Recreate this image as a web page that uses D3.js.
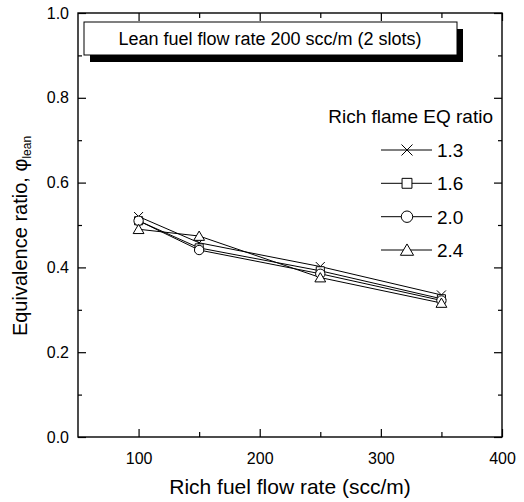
<!DOCTYPE html>
<html>
<head>
<meta charset="utf-8">
<script src="https://cdn.jsdelivr.net/npm/d3@7"></script>
<style>
html,body{margin:0;padding:0;background:#fff;}
text{font-family:"Liberation Sans",Arial,sans-serif;fill:#000;}
</style>
</head>
<body>
<svg id="chart" width="524" height="502"></svg>
<script>
const richFlow = [100, 150, 250, 350];
const seriesNames = ["1.3", "1.6", "2.0", "2.4"];
const s13 = [0.52, 0.458, 0.402, 0.335];
const s16 = [0.51, 0.446, 0.392, 0.326];
const s20 = [0.51, 0.441, 0.385, 0.322];
const s24 = [0.49, 0.474, 0.376, 0.316];
const seriesValues = [s13, s16, s20, s24];
const symbolsKind = ["cross", "square", "circle", "triangle"];
const xMajor = [100, 200, 300, 400];
const xMinor = [150, 250, 350];
const yMajor = [0, 0.2, 0.4, 0.6, 0.8, 1.0];
const yMinor = [0.1, 0.3, 0.5, 0.7, 0.9];
const titleText = "Lean fuel flow rate 200 scc/m (2 slots)";
const legendTitle = "Rich flame EQ ratio";

const svg = d3.select("#chart");
const L = 78, R = 502, T = 13, B = 437;
const x = d3.scaleLinear().domain([50, 400]).range([L, R]);
const y = d3.scaleLinear().domain([0, 1]).range([B, T]);

function styleAxis(g) {
  g.select(".domain").remove();
  g.selectAll(".tick line").attr("stroke", "#000").attr("stroke-width", 1.2);
  g.selectAll(".tick text").style("font-family", '"Liberation Sans",Arial,sans-serif').attr("fill", "#000");
}

// bottom
svg.append("g").attr("transform", `translate(0,${B})`)
  .call(d3.axisBottom(x).tickValues(xMajor).tickSize(-8).tickPadding(16).tickFormat(d3.format("d")))
  .call(styleAxis).selectAll("text").style("font-size", "16px");
svg.append("g").attr("transform", `translate(0,${B})`)
  .call(d3.axisBottom(x).tickValues(xMinor).tickSize(-5).tickFormat(""))
  .call(styleAxis);
// top
svg.append("g").attr("transform", `translate(0,${T})`)
  .call(d3.axisTop(x).tickValues(xMajor).tickSize(-8).tickFormat(""))
  .call(styleAxis);
svg.append("g").attr("transform", `translate(0,${T})`)
  .call(d3.axisTop(x).tickValues(xMinor).tickSize(-5).tickFormat(""))
  .call(styleAxis);
// left
svg.append("g").attr("transform", `translate(${L},0)`)
  .call(d3.axisLeft(y).tickValues(yMajor).tickSize(-8).tickPadding(9).tickFormat(d3.format(".1f")))
  .call(styleAxis).selectAll("text").style("font-size", "16px");
svg.append("g").attr("transform", `translate(${L},0)`)
  .call(d3.axisLeft(y).tickValues(yMinor).tickSize(-4).tickFormat(""))
  .call(styleAxis);
// right
svg.append("g").attr("transform", `translate(${R},0)`)
  .call(d3.axisRight(y).tickValues(yMajor).tickSize(-8).tickFormat(""))
  .call(styleAxis);
svg.append("g").attr("transform", `translate(${R},0)`)
  .call(d3.axisRight(y).tickValues(yMinor).tickSize(-4).tickFormat(""))
  .call(styleAxis);

// frame
svg.append("rect").attr("x", L).attr("y", T).attr("width", R - L).attr("height", B - T)
  .attr("fill", "none").attr("stroke", "#000").attr("stroke-width", 1.4);

// axis titles
svg.append("text").attr("x", (L + R) / 2).attr("y", 494).attr("text-anchor", "middle")
  .style("font-size", "21px").text("Rich fuel flow rate (scc/m)");
const yl = svg.append("text").attr("transform", "translate(27,236) rotate(-90)")
  .attr("text-anchor", "middle").style("font-size", "20px");
yl.append("tspan").text("Equivalence ratio, \u03C6");
yl.append("tspan").attr("dy", 4).style("font-size", "12px").text("lean");

// title box
svg.append("rect").attr("x", 90).attr("y", 29).attr("width", 373).attr("height", 33).attr("fill", "#000");
svg.append("rect").attr("x", 84).attr("y", 22).attr("width", 373).attr("height", 33)
  .attr("fill", "#fff").attr("stroke", "#000").attr("stroke-width", 1);
svg.append("text").attr("x", 270).attr("y", 45).attr("text-anchor", "middle")
  .style("font-size", "18px").text(titleText);

// markers
function markerPath(kind, s) {
  switch (kind) {
    case "cross": return `M${-5*s},${-5*s}L${5*s},${5*s}M${-5*s},${5*s}L${5*s},${-5*s}`;
    case "square": return `M${-4.5*s},${-4.5*s}h${9*s}v${9*s}h${-9*s}Z`;
    case "circle": return d3.arc()({innerRadius:0, outerRadius:5.2*s, startAngle:0, endAngle:2*Math.PI});
    case "triangle": return `M0,${-5.5*s}L${6*s},${4.8*s}L${-6*s},${4.8*s}Z`;
  }
}

const line = d3.line().x((d, i) => x(richFlow[i])).y(d => y(d));
seriesValues.forEach((vals, k) => {
  svg.append("path").datum(vals).attr("d", line)
    .attr("fill", "none").attr("stroke", "#000").attr("stroke-width", 1);
});
seriesValues.forEach((vals, k) => {
  svg.append("g").selectAll("path").data(vals).join("path")
    .attr("transform", (d, i) => `translate(${x(richFlow[i])},${y(d)})`)
    .attr("d", markerPath(symbolsKind[k], 0.9))
    .attr("fill", symbolsKind[k] === "cross" ? "none" : "#fff")
    .attr("stroke", "#000").attr("stroke-width", 1);
});

// legend
svg.append("text").attr("x", 493).attr("y", 123).attr("text-anchor", "end")
  .style("font-size", "19px").text(legendTitle);
const legY = [150, 183.3, 216.7, 250];
seriesNames.forEach((name, k) => {
  const g = svg.append("g").attr("transform", `translate(0,${legY[k]})`);
  g.append("line").attr("x1", 381).attr("x2", 432).attr("y1", 0).attr("y2", 0)
    .attr("stroke", "#000").attr("stroke-width", 1);
  g.append("path").attr("transform", "translate(407,0)").attr("d", markerPath(symbolsKind[k], 1.1))
    .attr("fill", symbolsKind[k] === "cross" ? "none" : "#fff").attr("stroke", "#000").attr("stroke-width", 1);
  g.append("text").attr("x", 437).attr("y", 7).style("font-size", "19px").text(name);
});
</script>
</body>
</html>
